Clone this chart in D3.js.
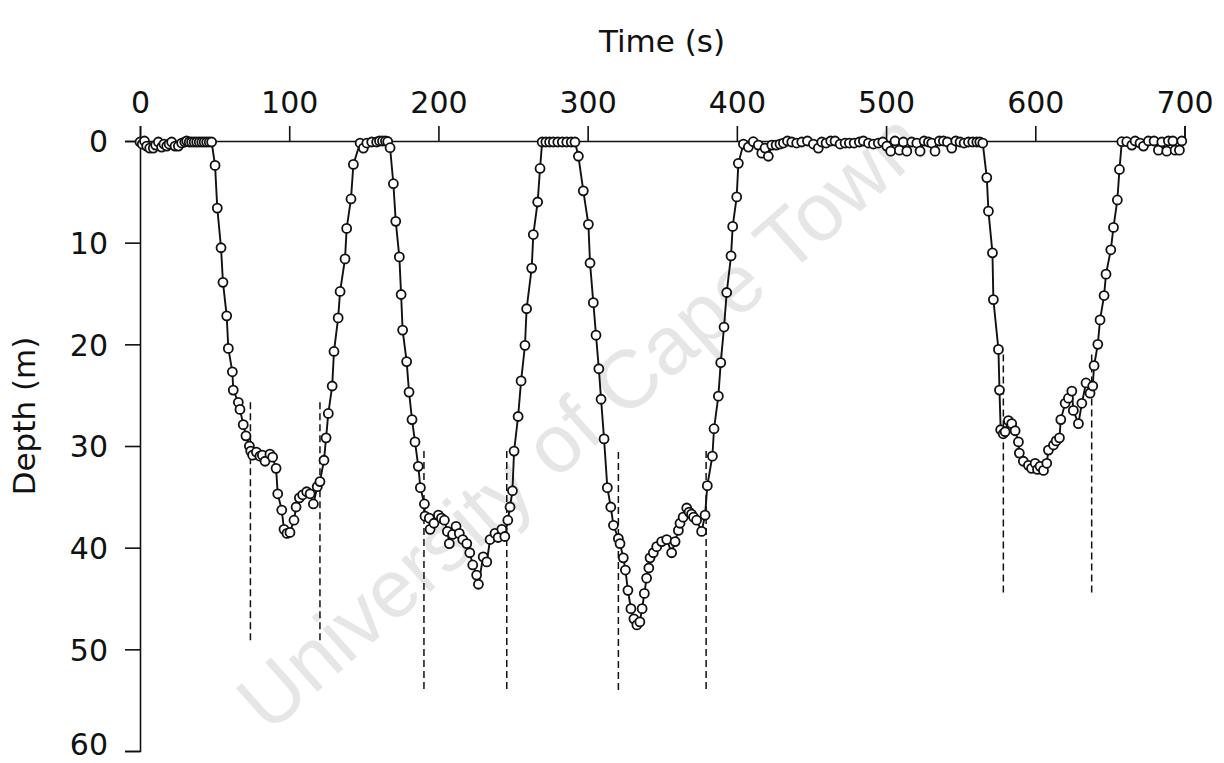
<!DOCTYPE html>
<html><head><meta charset="utf-8">
<script src="https://cdn.jsdelivr.net/npm/d3@7"></script>
<style>
html,body{margin:0;padding:0;background:#fff;}
svg{display:block;font-family:"DejaVu Sans",sans-serif;}
</style></head>
<body><svg id="c" width="1224" height="763"></svg>
<script>
// Time (s) of each depth sample
const times = [
0,1.5,3,4.5,6.5,8.9,10.5,12.3,14.5,16,17.9,19.5,21.2,23.5,25.7,27.9,30,31.3,33,34.6,36.3,38,39.7,41.4,43,44.7,46.4,48,
50.3,51.8,54.3,55.6,58.1,59.2,61.9,62.5,65.9,67,69.2,71,73.3,74.2,75.5,78,80.4,82,83.8,87.1,88.9,91.2,92.3,95,96.5,98.5,100.5,103.2,104.6,106.8,109,111.7,114,116.2,118.8,120.6,123.3,124.7,126.2,128.8,130,132.8,134.1,137.4,138.5,141.4,143,
147.5,149.7,152,155.3,158.6,160.5,162.5,164.5,166,
167.6,169.8,171.4,173.8,175,176,178.7,180.3,182.3,184.3,186.5,187.9,190.6,191,193.9,194.4,197,200,202,204,206,207.3,209.5,211.8,214,216.3,219,221,223,225.6,226.8,230,232.4,234.6,237.9,240,242.5,244.5,246.5,248,249.6,250.7,253.4,255.4,258,259.1,262.5,263.6,266.5,268.1,
269.5,272,274.5,277,280,283,286,289,291.5,
293.8,297.1,300.5,301.6,303.8,305.6,307.5,309,311,313.2,315.5,317.3,320.6,321.7,323.9,325.3,327,329,331,333,335,336.5,338,339.5,341,341.8,344,346.3,349.6,353,356.3,358.6,360.8,361.9,364,366.4,368,369.6,371,373,376.4,378.7,380.2,383.6,384.7,387.6,389.2,391.4,393.2,396.1,397.2,399.9,401,
404.4,407.7,411,414.4,416.7,418.9,421.1,423.4,426.3,428.9,431.2,433.9,436.8,440.1,443.5,447.3,451.3,454.6,456.9,459.8,462.9,465.8,469.2,472.5,475.4,478.6,482.1,484.8,488.2,491.5,494.8,497.8,500.5,503.1,506,508.9,511.6,513.9,517.2,520.6,522.8,525.5,528.4,530.6,532.8,535.7,538.4,541.1,544,546.7,549.6,552.3,555.2,558.1,560.8,562.8,564.8,
567.5,568.6,571.3,571.9,575.3,576,576.8,578.5,579.8,582,584.2,586.5,588.7,589.3,592,595.4,597.5,599.9,601.5,603.2,605.5,607.7,608.8,612.2,614,616.2,617.1,620,622.2,624.5,625.5,628.9,631.2,634,636.7,638.5,639.4,641.9,643.4,646.1,647.4,650.6,652.4,655,656.4,
658,661.3,664.7,666.9,670.2,672.5,675.8,679.6,682.5,684.8,688.1,689.2,692.2,693.7,696.6,698.2
];
// Depth (m) of each sample
const depths = [
0.1,0.3,0,0.5,0.7,0.7,0.4,0.1,0.6,0.3,0.5,0.3,0.1,0.5,0.5,0.2,0.1,0,0.1,0.1,0.1,0.1,0.1,0.1,0.1,0.1,0.1,0.1,
2.4,6.6,10.5,13.9,17.2,20.4,22.7,24.5,25.7,26.4,27.9,29,30,30.5,30.9,30.6,31,30.9,31.5,30.8,31.1,32.2,34.7,36.3,38.2,38.6,38.5,37.3,36,35.1,34.8,34.5,34.7,35.7,34,33.5,31.4,29.2,26.8,24.1,20.7,17.4,14.8,11.6,8.6,5.7,2.3,
0.2,0.7,0.2,0.1,0.1,0,0,0,0.05,
0.66,4.2,7.9,11.4,15.1,18.6,21.7,24.7,27.4,29.6,32,34.1,35.7,36.9,37.1,38.2,37.6,36.8,37.1,37.3,38.4,39.6,38.7,37.9,38.6,39.2,39.6,40.5,41.7,42.7,43.6,40.9,41.4,39.2,38.6,39,38.2,38.9,37.3,36,34.4,30.5,27.1,23.6,20.1,16.5,12.5,9.2,6,2.7,
0.1,0.1,0.1,0.1,0.1,0.1,0.1,0.1,0.1,
1.5,4.9,8.2,12,15.9,19.1,22.4,25.4,29.3,34.1,36,37.8,39.1,39.6,41,42.2,44.2,46,47,47.6,47.3,46,44.5,43,42,41,40.5,39.9,39.4,39.2,40.5,39.4,38.3,37.6,37,36.1,36.5,36.7,37,37.3,38.4,36.8,33.9,31,28.3,25.1,21.8,18.3,14.9,11.3,8.4,5.5,2.2,
0.3,0.6,0.07,0.4,1.2,0.7,1.5,0.4,0.4,0.3,0.2,0,0.1,0.2,0.1,0,0.3,0.7,0.1,0.2,0,0,0.3,0.2,0.2,0.2,0.1,0,0.2,0.3,0.2,0.1,0.5,1,0,0.9,0.1,1,0.1,0.2,1,0,0.1,0.2,1,0,0,0.1,0.7,0,0.1,0.2,0.1,0.1,0.1,0.1,0.2,
3.6,6.9,11,15.6,20.5,24.5,28.4,28.8,28.6,27.5,27.8,28.5,29.6,30.7,31.5,31.9,32.2,31.7,32.3,32,32.4,31.7,30.4,29.9,29.5,29.2,27.4,25.8,25.3,24.6,26.5,27.8,25.8,23.8,24.8,24.1,22.1,20,17.6,15.2,13.1,10.7,8.5,5.8,2.8,
0.07,0.07,0.4,0,0.2,0.5,0,0,0.9,0.1,1,0,0,0.9,0.9,0
];
// Dive phase boundaries (dashed lines): time, top depth, bottom depth
const phaseTimes = [74, 120.6, 190.3, 245.8, 320.6, 379.4, 578.6, 637.8];
const phaseTop    = [25.7, 25.7, 30.5, 30.5, 30.6, 30.5, 21, 21];
const phaseBottom = [49.4, 49.4, 54.2, 54.2, 54.2, 54.2, 44.5, 44.5];
const xTicks = [0,100,200,300,400,500,600,700];
const yTicks = [0,10,20,30,40,50,60];

const svg = d3.select("#c");
const x = d3.scaleLinear().domain([0,700]).range([140,1184.5]);
const y = d3.scaleLinear().domain([0,60]).range([141,751]);
const FONT = "'DejaVu Sans',sans-serif";

// watermark
svg.append("text")
  .attr("transform","translate(585,426) rotate(-41.5)")
  .attr("text-anchor","middle").attr("dominant-baseline","middle")
  .attr("font-family","'Liberation Sans',Arial,sans-serif")
  .attr("font-size",82).attr("fill","#e6e6e6")
  .text("University of Cape Town");

// axes
const xAxis = d3.axisTop(x).tickValues(xTicks).tickSize(15).tickPadding(13).tickFormat(d3.format("d"));
const gx = svg.append("g").attr("transform",`translate(0,${y(0)})`).call(xAxis);
const yAxis = d3.axisLeft(y).tickValues(yTicks).tickSize(15).tickPadding(17).tickFormat(d3.format("d"));
const gy = svg.append("g").attr("transform",`translate(${x(0)},0)`).call(yAxis);
[gx,gy].forEach(g=>{
  g.select(".domain").attr("stroke","#111").attr("stroke-width",1.6);
  g.selectAll(".tick line").attr("stroke","#111").attr("stroke-width",1.6);
  g.selectAll(".tick text").attr("font-size",30).attr("fill","#111")
   .attr("font-family",FONT);
});
gy.selectAll(".tick text").attr("dy","0.36em");
// keep the bottom label inside the picture
gy.selectAll(".tick text").filter(d=>d===60).attr("dy","0.12em");

svg.append("text").attr("x",662).attr("y",52).attr("text-anchor","middle")
  .attr("font-family",FONT).attr("font-size",31).attr("fill","#111").text("Time (s)");
svg.append("text").attr("transform","translate(35,416) rotate(-90)")
  .attr("text-anchor","middle").attr("font-family",FONT)
  .attr("font-size",31).attr("fill","#111").text("Depth (m)");

// dashed phase lines
svg.append("g").selectAll("line").data(phaseTimes).join("line")
  .attr("x1",d=>x(d)).attr("x2",d=>x(d))
  .attr("y1",(d,i)=>y(phaseTop[i])).attr("y2",(d,i)=>y(phaseBottom[i]))
  .attr("stroke","#111").attr("stroke-width",1.5).attr("stroke-dasharray","7,4");

// profile line
const pts = times.map((t,i)=>[t,depths[i]]);
svg.append("path").datum(pts)
  .attr("d",d3.line().x(d=>x(d[0])).y(d=>y(d[1])))
  .attr("fill","none").attr("stroke","#111").attr("stroke-width",1.9);
svg.append("g").selectAll("circle").data(pts).join("circle")
  .attr("cx",d=>x(d[0])).attr("cy",d=>y(d[1])).attr("r",4.5)
  .attr("fill","#fff").attr("stroke","#111").attr("stroke-width",1.8);
</script></body></html>
